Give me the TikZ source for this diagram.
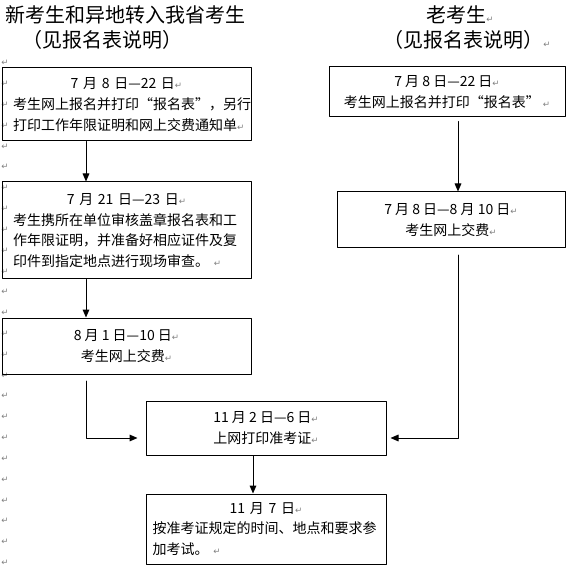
\documentclass[tikz,border=0pt]{standalone}
\usepackage{fontspec}
\setmainfont{Noto Sans CJK SC}
\newfontfamily\markfont{DejaVu Sans}
\usetikzlibrary{arrows.meta}
\newcommand{\pmark}{{\markfont\fontsize{6.5}{6.5}\selectfont\textcolor{gray}{↵}}}
\begin{document}
\begin{tikzpicture}[x=0.75pt,y=-0.75pt,line cap=round,line join=round,
  stepbox/.style={draw,line width=0.75pt,inner ysep=0pt,font=\fontsize{10.5}{15.6}\selectfont},
  lefttext/.style={align=left,text width=170pt,inner xsep=8.375pt},
  titletext/.style={inner sep=0pt,anchor=base west,font=\fontsize{15}{18}\selectfont},
  flow/.style={line width=0.75pt,-{Triangle[length=6pt,width=5pt]}},
  pmk/.style={inner sep=0pt,text=gray,font=\markfont\fontsize{6.5}{6.5}\selectfont}]
  \useasboundingbox (0,0) rectangle (571,570);
  \foreach \k in {0,...,24}
    \node[pmk] (mark\k) at (5,63+20.83*\k) {↵};
  \node[titletext] (newtitle) at (5,22.6) {新考生和异地转入我省考生};
  \node[titletext] (newnote) at (22,47.6) {（见报名表说明）};
  \node[titletext] (oldtitle) at (426,22.6) {老考生\pmark};
  \node[titletext] (oldnote) at (383,47.6) {（见报名表说明）\pmark};
  \node[stepbox,lefttext,minimum height=54.75pt] (regA) at (126.5,104.5)
    {\makebox[\linewidth]{7 月 8 日—22 日\pmark}\\考生网上报名并打印“报名表”，另行\\打印工作年限证明和网上交费通知单\pmark};
  \node[stepbox,lefttext,minimum height=72.75pt] (checkB) at (126.5,230.5)
    {\makebox[\linewidth]{7 月 21 日—23 日\pmark}\\考生携所在单位审核盖章报名表和工\\作年限证明，并准备好相应证件及复\\印件到指定地点进行现场审查。 \pmark};
  \node[stepbox,align=center,minimum width=186.75pt,minimum height=42pt] (payC) at (126.5,346)
    {8 月 1 日—10 日\pmark\\考生网上交费\pmark};
  \node[stepbox,align=center,minimum width=177pt,minimum height=37.5pt] (regD) at (447,92)
    {7 月 8 日—22 日\pmark\\考生网上报名并打印“报名表” \pmark};
  \node[stepbox,align=center,minimum width=171pt,minimum height=42pt] (payE) at (451,220)
    {7 月 8 日—8 月 10 日\pmark\\考生网上交费\pmark};
  \node[stepbox,align=center,minimum width=180pt,minimum height=40.5pt] (printF) at (266,428)
    {11 月 2 日—6 日\pmark\\上网打印准考证\pmark};
  \node[stepbox,align=left,text width=170pt,inner xsep=5pt,minimum height=52.5pt] (examG) at (266,529)
    {\makebox[\linewidth]{11 月 7 日\pmark}\\按准考证规定的时间、地点和要求参\\加考试。 \pmark};
  \coordinate (leftx) at (86,0);
  \coordinate (rightx) at (458,0);
  \coordinate (midx) at (253,0);
  \coordinate (feedy) at (0,438);
  \draw[flow] (regA.south -| leftx) -- (checkB.north -| leftx);
  \draw[flow] (checkB.south -| leftx) -- (payC.north -| leftx);
  \draw[flow,shorten <=3pt] (regD.south -| rightx) -- (payE.north -| rightx);
  \draw[flow,shorten <=5pt,shorten >=6pt] (payC.south -| leftx) |- (printF.west |- feedy);
  \draw[flow,shorten <=5pt,shorten >=3pt] (payE.south -| rightx) |- (printF.east |- feedy);
  \draw[flow] (printF.south -| midx) -- (examG.north -| midx);
\end{tikzpicture}
\end{document}
